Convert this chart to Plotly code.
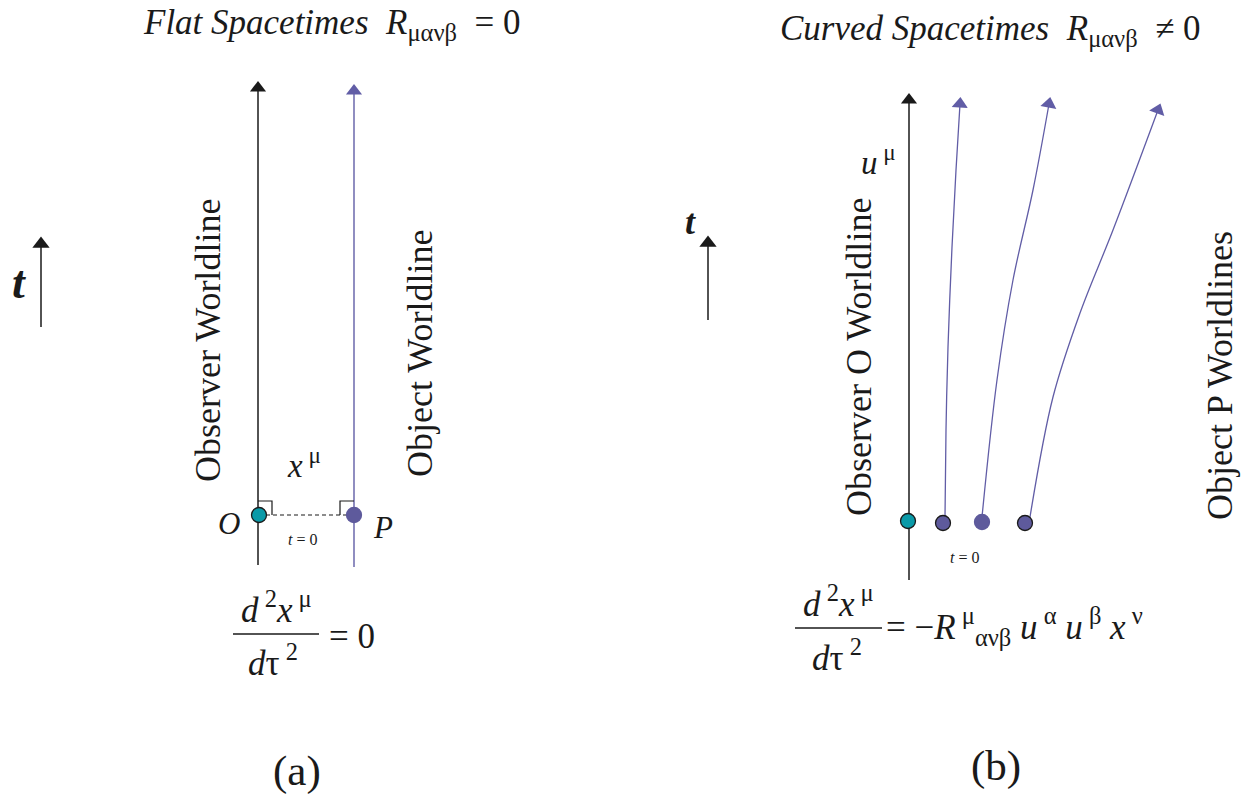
import math
import plotly.graph_objects as go

W, H = 1245, 795
FONT = "Liberation Serif"
BLACK = "#1a1a1a"
PURPLE = "#615da6"
DOT_PURPLE = "#5e5a9c"
TEAL = "#0a9aa8"

# ---- panel (a): flat spacetime worldlines (x, y in figure pixels) ----
flat_observer_x = [258, 258]
flat_observer_y = [565, 88]
flat_object_x = [354, 354]
flat_object_y = [567, 91]
flat_dot_x = [259, 354]
flat_dot_y = [515, 515]
flat_sep_x = [266, 347]
flat_sep_y = [515, 515]
time_arrow_a_x = [41, 41]
time_arrow_a_y = [327, 244]

# ---- panel (b): curved spacetime worldlines ----
curved_observer_x = [909, 909]
curved_observer_y = [580, 100]
curve1_x = [945, 946, 948, 952, 956, 960]
curve1_y = [517, 430, 347, 247, 170, 104]
curve2_x = [982, 997, 1013, 1033, 1049]
curve2_y = [517, 380, 280, 190, 104]
curve3_x = [1030, 1053, 1080, 1113, 1158]
curve3_y = [517, 397, 313, 230, 110]
curved_dot_x = [908, 943, 982, 1025]
curved_dot_y = [521, 523, 522, 523]
time_arrow_b_x = [708, 708]
time_arrow_b_y = [320, 243]

fig = go.Figure()


def add_line(xs, ys, color, width, dash="solid", shape="linear"):
    fig.add_trace(go.Scatter(x=xs, y=ys, mode="lines",
                             line=dict(color=color, width=width, dash=dash, shape=shape,
                                       smoothing=1.0),
                             hoverinfo="skip", showlegend=False))


def add_head(xs, ys, color, size=13):
    dx = xs[-1] - xs[-2]
    dy = ys[-1] - ys[-2]
    ang = math.degrees(math.atan2(dx, -dy))
    fig.add_trace(go.Scatter(x=[xs[-1]], y=[ys[-1]], mode="markers",
                             marker=dict(symbol="triangle-up", size=size, color=color,
                                         angle=ang, line=dict(width=0)),
                             hoverinfo="skip", showlegend=False))


def arrow(xs, ys, color, width, size=14, shape="linear"):
    add_line(xs, ys, color, width, shape=shape)
    add_head(xs, ys, color, size)


# panel (a)
arrow(flat_observer_x, flat_observer_y, BLACK, 1.5)
arrow(flat_object_x, flat_object_y, PURPLE, 1.4)
add_line(flat_sep_x, flat_sep_y, BLACK, 1.2, dash="4px,3px")
# right-angle marks
add_line([258, 272, 272], [501, 501, 515], BLACK, 1.2)
add_line([354, 340, 340], [501, 501, 515], BLACK, 1.2)
fig.add_trace(go.Scatter(x=flat_dot_x, y=flat_dot_y, mode="markers",
                         marker=dict(size=15, color=[TEAL, DOT_PURPLE],
                                     line=dict(color=[BLACK, DOT_PURPLE], width=1.3)),
                         hoverinfo="skip", showlegend=False))
arrow(time_arrow_a_x, time_arrow_a_y, BLACK, 1.5, size=15)

# panel (b)
arrow(curved_observer_x, curved_observer_y, BLACK, 1.5)
for cx, cy in [(curve1_x, curve1_y), (curve2_x, curve2_y), (curve3_x, curve3_y)]:
    arrow(cx, cy, PURPLE, 1.3, size=14, shape="spline")
fig.add_trace(go.Scatter(x=curved_dot_x, y=curved_dot_y, mode="markers",
                         marker=dict(size=15, color=[TEAL, DOT_PURPLE, DOT_PURPLE, DOT_PURPLE],
                                     line=dict(color=[BLACK, BLACK, DOT_PURPLE, BLACK], width=1.3)),
                         hoverinfo="skip", showlegend=False))
arrow(time_arrow_b_x, time_arrow_b_y, BLACK, 1.5, size=15)

# fraction bars
add_line([233, 319], [634, 634], BLACK, 1.3)
add_line([795, 882], [628, 628], BLACK, 1.3)

annotations = []


def text(x, y, s, size, angle=0, color=BLACK, xanchor="center"):
    annotations.append(dict(x=x, y=y, text=s, showarrow=False, textangle=angle,
                            xanchor=xanchor, yanchor="middle",
                            font=dict(family=FONT, size=size, color=color)))


# titles
text(141, 24, "<i>Flat Spacetimes</i>  <i>R</i><sub>μανβ</sub>  = 0", 35, xanchor="left")
text(778, 30, "<i>Curved Spacetimes</i>  <i>R</i><sub>μανβ</sub>  ≠ 0", 35, xanchor="left")

# rotated labels
text(208, 341, "Observer Worldline", 36, angle=-90)
text(420, 354, "Object Worldline", 36, angle=-90)
text(859, 357, "Observer O Worldline", 36, angle=-90)
text(1220, 376, "Object P Worldlines", 36, angle=-90)

# small labels panel (a)
text(304, 463, "<i>x</i><sup> μ</sup>", 33)
text(229, 523, "<i>O</i>", 31)
text(383, 527, "<i>P</i>", 31)
text(302, 539, "<i>t</i> = 0", 16)
text(19, 282, "<b><i>t</i></b>", 46)

# small labels panel (b)
text(878, 160, "<i>u</i><sup> μ</sup>", 33)
text(690, 222, "<b><i>t</i></b>", 36)
text(964, 557, "<i>t</i> = 0", 16)

# equations
text(276, 607, "<i>d</i><sup> 2</sup><i>x</i><sup> μ</sup>", 35)
text(273, 660, "<i>d</i>τ<sup> 2</sup>", 35)
text(327, 636, "= 0", 35, xanchor="left")

text(838, 601, "<i>d</i><sup> 2</sup><i>x</i><sup> μ</sup>", 35)
text(837, 655, "<i>d</i>τ<sup> 2</sup>", 35)
text(884, 626, "= −<i>R</i><sup> μ</sup><sub>ανβ</sub> <i>u</i><sup> α</sup> <i>u</i><sup> β</sup> <i>x</i><sup> ν</sup>",
     35, xanchor="left")

# captions
text(297, 771, "(a)", 43)
text(996, 766, "(b)", 43)

fig.update_layout(
    width=W, height=H,
    margin=dict(l=0, r=0, t=0, b=0),
    paper_bgcolor="white", plot_bgcolor="white",
    xaxis=dict(range=[0, W], visible=False, fixedrange=True),
    yaxis=dict(range=[H, 0], visible=False, fixedrange=True),
    annotations=annotations,
    showlegend=False,
    font=dict(family=FONT),
)

fig.write_html("out.html", post_script="document.body.style.margin='0';",
               config={"displayModeBar": False})
